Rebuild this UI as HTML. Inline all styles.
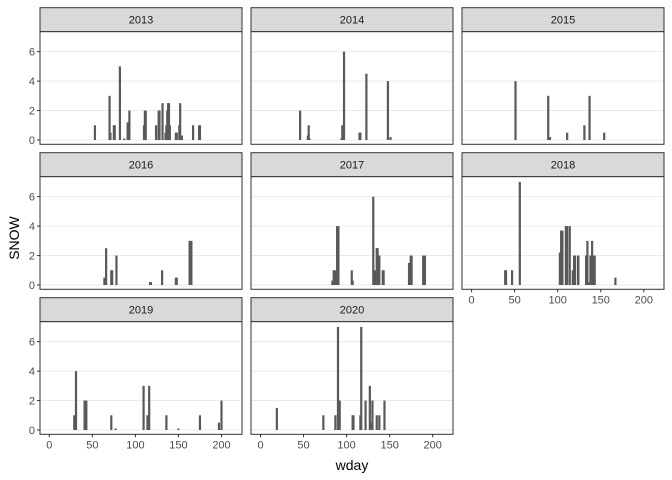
<!DOCTYPE html>
<html><head><meta charset="utf-8"><style>
html,body{margin:0;padding:0;background:#fff;}
svg{display:block;font-family:"Liberation Sans",sans-serif;}
</style></head><body>
<svg id="s" width="672" height="480" xmlns="http://www.w3.org/2000/svg"></svg>
<script>
const D={
"2013":[[53,1],[70,3],[71,0.5],[75,1],[76,1],[82,5],[87,0.1],[91,1.2],[93,2],[110,1],[111,2],[112,2],[124,1],[127,2],[128,2],[131.5,2.5],[135,0.5],[136,1],[137,2],[138,2.5],[139,2.5],[140,1],[147,0.5],[148,0.5],[151,1],[152,2.5],[153,0.3],[154,0.3],[167,1],[174,1],[175,1]],
"2014":[[46,2],[55,0.3],[56,1],[57,0.1],[94,0.1],[95,1],[97,6],[115,0.5],[116,0.5],[123,4.5],[148,4],[151,0.2]],
"2015":[[51,4],[89,3],[91,0.2],[111,0.5],[131,1],[137,3],[154,0.5]],
"2016":[[64,0.5],[66,2.5],[72,1],[73,1],[78,2],[117,0.2],[118,0.2],[131,1],[147,0.5],[148,0.5],[163,3],[165,3]],
"2017":[[83.5,0.3],[85,1],[87,1],[89,4],[90.5,4],[106,1],[107,0.3],[131,6],[133,1],[135,2.5],[136,2.5],[138,2],[142,1],[143,1],[172.5,1.5],[174.5,2],[175.5,2],[189,2],[191,2]],
"2018":[[39,1],[40,1],[47,1],[56,7],[102.5,2.2],[104,3.7],[105.5,3.7],[109.5,4],[111,4],[114,4],[117.5,1],[119,2],[120,2],[123.5,2],[124,2],[133,2],[134.5,3],[135.5,0.2],[138,2],[140,3],[141.5,2],[143,2],[167,0.5]],
"2019":[[29,1],[31,4],[41,2],[43,2],[72,1],[77,0.1],[109.5,3],[114,1],[116,3],[136,1],[150,0.1],[175,1],[197,0.5],[200,2]],
"2020":[[19,1.5],[73,1],[87,1],[90,7],[92,2],[107,1],[108,1],[116,1],[117,7],[122,2],[127,3],[128,0.5],[130,2],[135,1],[138,1],[144,2]]
};
const cols=[[40,242,49.3],[251,453,260.5],[462,664,471.6]];
const rowsY=[7.7,152.7,297.7];
let h='';
const years=Object.keys(D);
years.forEach((yr,i)=>{
  const c=cols[i%3], r=Math.floor(i/3), st=rowsY[r];
  const pt=st+24, pb=st+136.6, y0=st+132.3, u=14.72, k=0.861;
  const L=c[0],R=c[1],x0=c[2];
  h+=`<rect x="${L}" y="${st}" width="${R-L}" height="24" fill="#d9d9d9" stroke="#333" stroke-width="1"/>`;
  h+=`<text x="${(L+R)/2}" y="${st+16}" font-size="11" fill="#1a1a1a" text-anchor="middle">${yr}</text>`;
  h+=`<rect x="${L}" y="${pt}" width="${R-L}" height="${pb-pt}" fill="#fff"/>`;
  for(let v=0;v<=6;v+=2){const y=y0-v*u;h+=`<line x1="${L}" x2="${R}" y1="${y}" y2="${y}" stroke="#ebebeb" stroke-width="1"/>`;}
  D[yr].forEach(([d,v])=>{const x=x0+d*k;h+=`<rect x="${x-1.1}" y="${y0-v*u}" width="2.2" height="${v*u}" fill="#595959"/>`;});
  h+=`<rect x="${L}" y="${pt}" width="${R-L}" height="${pb-pt}" fill="none" stroke="#333" stroke-width="1"/>`;
  if(i%3==0){for(let v=0;v<=6;v+=2){const y=y0-v*u;h+=`<line x1="${L-3}" x2="${L}" y1="${y}" y2="${y}" stroke="#333"/><text x="${L-5}" y="${y+4}" font-size="11" fill="#4d4d4d" text-anchor="end">${v}</text>`;}}
  if(i>=5){for(let v=0;v<=200;v+=50){const x=x0+v*k;h+=`<line x1="${x}" x2="${x}" y1="${pb}" y2="${pb+3}" stroke="#333"/><text x="${x}" y="${pb+14}" font-size="11" fill="#4d4d4d" text-anchor="middle">${v}</text>`;}}
});
h+=`<text x="352" y="470" font-size="14" fill="#000" text-anchor="middle">wday</text>`;
h+=`<text transform="translate(19,238) rotate(-90)" font-size="14" fill="#000" text-anchor="middle">SNOW</text>`;
document.getElementById('s').innerHTML=h;
</script>
</body></html>
